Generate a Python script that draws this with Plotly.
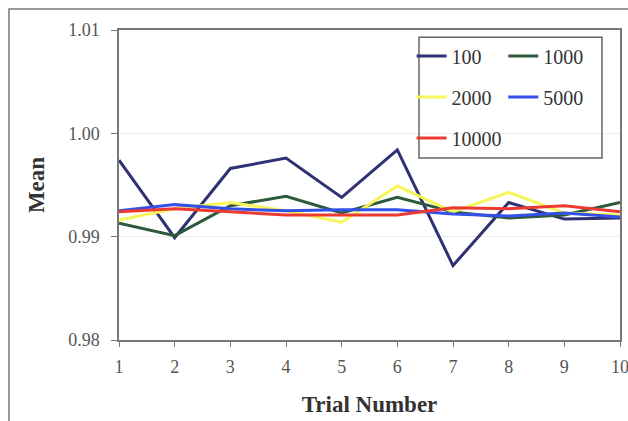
import plotly.graph_objects as go

trials = [1, 2, 3, 4, 5, 6, 7, 8, 9, 10]
s100 = [0.9974, 0.9899, 0.9966, 0.9976, 0.9938, 0.9984, 0.9872, 0.9933, 0.9917, 0.9918]
s1000 = [0.9913, 0.9901, 0.9930, 0.9939, 0.9923, 0.9938, 0.9924, 0.9918, 0.9921, 0.9933]
s2000 = [0.9916, 0.9927, 0.9933, 0.9925, 0.9914, 0.9949, 0.9924, 0.9943, 0.9923, 0.9921]
s5000 = [0.9925, 0.9931, 0.9927, 0.9925, 0.9926, 0.9926, 0.9922, 0.9920, 0.9923, 0.9919]
s10000 = [0.9924, 0.9927, 0.9924, 0.9921, 0.9921, 0.9921, 0.9928, 0.9927, 0.9930, 0.9924]

series = [
    ("100", s100, "#2E3172", "legend"),
    ("1000", s1000, "#2D5A3A", "legend2"),
    ("2000", s2000, "#F6F65A", "legend"),
    ("5000", s5000, "#3450E6", "legend2"),
    ("10000", s10000, "#EC3A32", "legend"),
]

fig = go.Figure()
for name, vals, color, lg in series:
    fig.add_trace(go.Scatter(
        x=trials, y=vals, name=name, mode="lines",
        line=dict(color=color, width=3),
        legend=lg, legendgroup=name,
    ))

serif = "Liberation Serif"
legend_common = dict(
    font=dict(family=serif, size=20, color="#333333"),
    bgcolor="rgba(0,0,0,0)", borderwidth=0,
    orientation="v", tracegroupgap=12,
    xanchor="left", yanchor="top", itemwidth=30,
)

fig.update_layout(
    width=628, height=421,
    margin=dict(l=119, r=8, t=30, b=81),
    paper_bgcolor="white", plot_bgcolor="white",
    font=dict(family=serif, color="#444444"),
    showlegend=True,
    legend=dict(x=0.584, y=0.979, **legend_common),
    legend2=dict(x=0.767, y=0.979, **legend_common),
    xaxis=dict(
        range=[1, 10], tickmode="array", tickvals=trials,
        ticktext=[str(t) for t in trials], automargin=False,
        ticklabeloverflow="allow", ticklabelstandoff=5,
        showgrid=False, zeroline=False,
        showline=True, linecolor="#777777", linewidth=1.5, mirror=True,
        ticks="outside", ticklen=5, tickcolor="#777777",
        tickfont=dict(family=serif, size=18, color="#555555"),
        title=dict(text="<b>Trial Number</b>", standoff=20,
                   font=dict(family=serif, size=23, color="#333333")),
    ),
    yaxis=dict(
        range=[0.98, 1.01], tickmode="array", automargin=False,
        ticklabeloverflow="allow", ticklabelstandoff=8,
        tickvals=[0.98, 0.99, 1.00, 1.01],
        ticktext=["0.98", "0.99", "1.00", "1.01"],
        showgrid=True, gridcolor="#ececec", gridwidth=1, zeroline=False,
        showline=True, linecolor="#777777", linewidth=1.5, mirror=True,
        ticks="outside", ticklen=6, tickcolor="#777777",
        tickfont=dict(family=serif, size=18, color="#555555"),
        title=dict(text="<b>Mean</b>", standoff=17,
                   font=dict(family=serif, size=23, color="#333333")),
    ),
    shapes=[
        dict(type="rect", xref="paper", yref="paper",
             x0=0.5988, x1=0.964, y0=0.587, y1=0.977,
             line=dict(color="#666666", width=1.5), layer="above"),
        dict(type="rect", xref="paper", yref="paper",
             x0=-0.2196, x1=1.2, y0=-0.5, y1=1.0677,
             line=dict(color="#777777", width=1.5), layer="above"),
    ],
)

fig.write_html(
    "out.html",
    config={"displayModeBar": False},
    post_script="document.body.style.margin='0';document.body.style.overflow='hidden';",
)
